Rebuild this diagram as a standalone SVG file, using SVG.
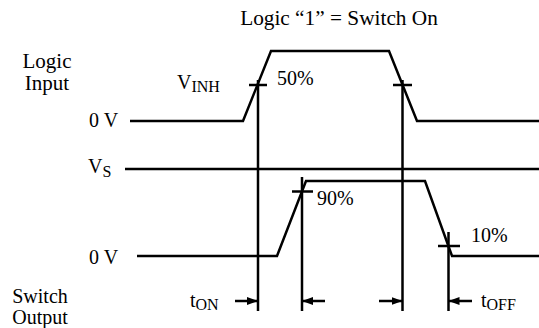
<svg xmlns="http://www.w3.org/2000/svg" width="539" height="328" viewBox="0 0 539 328">
<style>
text{font-family:'Liberation Serif','Times New Roman',serif;font-size:20px;fill:#000}
.big{font-size:21px}
.title{font-size:21.3px}
.sub{font-size:16px}
.w{fill:none;stroke:#000;stroke-width:2.5;stroke-linejoin:miter}
.t{fill:none;stroke:#000;stroke-width:2.5}
.a{fill:none;stroke:#000;stroke-width:2.5;marker-end:url(#ah)}
</style>
<defs>
<marker id="ah" markerUnits="userSpaceOnUse" markerWidth="12" markerHeight="10" refX="11" refY="4" orient="auto">
<path d="M0,0 L11,4 L0,8 Z" fill="#000"/>
</marker>
</defs>
<rect width="539" height="328" fill="#fff"/>
<g id="labels">
<text class="title" x="339" y="25" text-anchor="middle">Logic “1” = Switch On</text>
<text class="big" x="47" y="68" text-anchor="middle">Logic</text>
<text class="big" x="47" y="90" text-anchor="middle">Input</text>
<text x="89" y="127">0 V</text>
<text x="177" y="89">V<tspan class="sub" dy="3">INH</tspan></text>
<text x="277" y="85">50%</text>
<text x="88" y="173">V<tspan class="sub" dy="4">S</tspan></text>
<text x="89" y="264">0 V</text>
<text x="317" y="205">90%</text>
<text x="471" y="242">10%</text>
<text x="40" y="303" text-anchor="middle">Switch</text>
<text x="40" y="324" text-anchor="middle">Output</text>
<text x="190" y="307">t<tspan class="sub" dy="3">ON</tspan></text>
<text x="481" y="307">t<tspan class="sub" dy="3">OFF</tspan></text>
</g>
<g id="logic-input">
<polyline class="w" points="130,121 243,121 271,51 389,51 417,121 539,121"/>
</g>
<g id="vs-line">
<line class="w" x1="125" y1="169" x2="539" y2="169"/>
</g>
<g id="switch-output">
<polyline class="w" points="137,256 277,256 306,181 425,181 452,256 539,256"/>
</g>
<g id="connectors">
<line class="t" x1="258" y1="80" x2="258" y2="311"/>
<line class="t" x1="249" y1="85" x2="267" y2="85"/>
<line class="t" x1="402.5" y1="80" x2="402.5" y2="311"/>
<line class="t" x1="393" y1="85" x2="412" y2="85"/>
<line class="t" x1="302" y1="177" x2="302" y2="311"/>
<line class="t" x1="292" y1="191.5" x2="313" y2="191.5"/>
<line class="t" x1="448.5" y1="232" x2="448.5" y2="311"/>
<line class="t" x1="438" y1="246" x2="460" y2="246"/>
<line class="a" x1="235" y1="301" x2="258" y2="301"/>
<line class="a" x1="325" y1="301" x2="302" y2="301"/>
<line class="a" x1="379" y1="301" x2="402.5" y2="301"/>
<line class="a" x1="472" y1="301" x2="448.5" y2="301"/>
</g>
</svg>
